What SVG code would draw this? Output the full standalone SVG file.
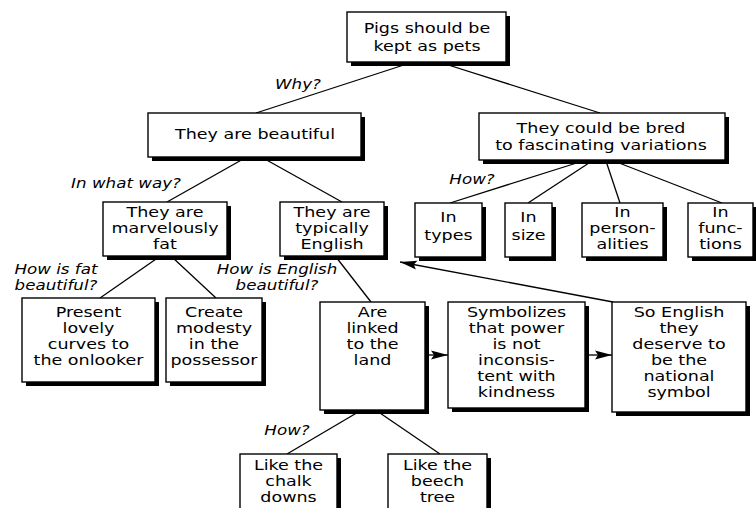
<svg xmlns="http://www.w3.org/2000/svg" width="756" height="508" viewBox="0 0 756 508">
  <style>
    .box { fill: #fff; stroke: #000; stroke-width: 1.4; }
    .shadow { fill: #000; }
    .t { font-family: "DejaVu Sans", "Liberation Sans", sans-serif; font-size: 13.7px; fill: #000; text-anchor: middle; }
    .q { font-family: "DejaVu Sans", "Liberation Sans", sans-serif; font-size: 13.7px; font-style: italic; fill: #000; text-anchor: middle; }
    .link { stroke: #000; stroke-width: 1.3; fill: none; }
  </style>
  <defs>
    <marker id="arrow" markerUnits="userSpaceOnUse" markerWidth="18" markerHeight="12" refX="17" refY="6" orient="auto">
      <path d="M0,1.5 L17,6 L0,10.5 L3,6 z" fill="#000"/>
    </marker>
  </defs>
  <rect width="756" height="508" fill="#fff"/>

  <!-- connectors -->
  <g id="connectors">
    <line class="link" x1="410" y1="63" x2="256" y2="113"/>
    <line class="link" x1="442" y1="63" x2="600" y2="113"/>
    <line class="link" x1="245" y1="158" x2="167" y2="202"/>
    <line class="link" x1="263" y1="158" x2="342" y2="202"/>
    <line class="link" x1="583" y1="161" x2="450" y2="203"/>
    <line class="link" x1="592" y1="161" x2="528" y2="203"/>
    <line class="link" x1="606" y1="161" x2="620" y2="203"/>
    <line class="link" x1="614" y1="161" x2="722" y2="203"/>
    <line class="link" x1="159" y1="257" x2="100" y2="298"/>
    <line class="link" x1="172" y1="257" x2="216" y2="298"/>
    <line class="link" x1="336" y1="257" x2="371" y2="302"/>
    <line class="link" x1="613" y1="302" x2="400" y2="262" marker-end="url(#arrow)"/>
    <line class="link" x1="429" y1="355" x2="448" y2="355" marker-end="url(#arrow)"/>
    <line class="link" x1="589" y1="355" x2="612" y2="355" marker-end="url(#arrow)"/>
    <line class="link" x1="360" y1="411" x2="287" y2="454"/>
    <line class="link" x1="377" y1="411" x2="440" y2="454"/>
  </g>

  <!-- italic question labels -->
  <g id="labels">
    <text class="q" transform="translate(298 0) scale(1.22 1)"><tspan x="0" y="89">Why?</tspan></text>
    <text class="q" transform="translate(126 0) scale(1.22 1)"><tspan x="0" y="188">In what way?</tspan></text>
    <text class="q" transform="translate(472 0) scale(1.22 1)"><tspan x="0" y="184">How?</tspan></text>
    <text class="q" transform="translate(56 0) scale(1.22 1)"><tspan x="0" y="274">How is fat</tspan><tspan x="0" y="290">beautiful?</tspan></text>
    <text class="q" transform="translate(277 0) scale(1.22 1)"><tspan x="0" y="274">How is English</tspan><tspan x="0" y="290">beautiful?</tspan></text>
    <text class="q" transform="translate(287 0) scale(1.22 1)"><tspan x="0" y="435">How?</tspan></text>
  </g>

  <!-- nodes -->
  <g id="n-root">
    <rect class="shadow" x="351" y="16" width="159" height="50"/>
    <rect class="box" x="347" y="12" width="159" height="50"/>
    <text class="t" transform="translate(427 0) scale(1.28 1)"><tspan x="0" y="33">Pigs should be</tspan><tspan x="0" y="51">kept as pets</tspan></text>
  </g>

  <g id="n-beautiful">
    <rect class="shadow" x="152" y="117" width="213" height="44"/>
    <rect class="box" x="148" y="113" width="213" height="44"/>
    <text class="t" transform="translate(255 0) scale(1.28 1)"><tspan x="0" y="139">They are beautiful</tspan></text>
  </g>

  <g id="n-bred">
    <rect class="shadow" x="483" y="117" width="246" height="47"/>
    <rect class="box" x="479" y="113" width="246" height="47"/>
    <text class="t" transform="translate(601 0) scale(1.28 1)"><tspan x="0" y="133">They could be bred</tspan><tspan x="0" y="150">to fascinating variations</tspan></text>
  </g>

  <g id="n-fat">
    <rect class="shadow" x="107" y="206" width="124" height="54"/>
    <rect class="box" x="103" y="202" width="124" height="54"/>
    <text class="t" transform="translate(165 0) scale(1.28 1)"><tspan x="0" y="217">They are</tspan><tspan x="0" y="233">marvelously</tspan><tspan x="0" y="249">fat</tspan></text>
  </g>

  <g id="n-english">
    <rect class="shadow" x="284" y="206" width="104" height="54"/>
    <rect class="box" x="280" y="202" width="104" height="54"/>
    <text class="t" transform="translate(332 0) scale(1.28 1)"><tspan x="0" y="217">They are</tspan><tspan x="0" y="233">typically</tspan><tspan x="0" y="249">English</tspan></text>
  </g>

  <g id="n-types">
    <rect class="shadow" x="419" y="207" width="67" height="54"/>
    <rect class="box" x="415" y="203" width="67" height="54"/>
    <text class="t" transform="translate(448.5 0) scale(1.28 1)"><tspan x="0" y="222">In</tspan><tspan x="0" y="240">types</tspan></text>
  </g>

  <g id="n-size">
    <rect class="shadow" x="509" y="207" width="47" height="54"/>
    <rect class="box" x="505" y="203" width="47" height="54"/>
    <text class="t" transform="translate(528.5 0) scale(1.28 1)"><tspan x="0" y="222">In</tspan><tspan x="0" y="240">size</tspan></text>
  </g>

  <g id="n-personalities">
    <rect class="shadow" x="586" y="207" width="81" height="54"/>
    <rect class="box" x="582" y="203" width="81" height="54"/>
    <text class="t" transform="translate(622.5 0) scale(1.28 1)"><tspan x="0" y="217">In</tspan><tspan x="0" y="233">person-</tspan><tspan x="0" y="249">alities</tspan></text>
  </g>

  <g id="n-functions">
    <rect class="shadow" x="692" y="207" width="65" height="54"/>
    <rect class="box" x="688" y="203" width="65" height="54"/>
    <text class="t" transform="translate(720.5 0) scale(1.28 1)"><tspan x="0" y="217">In</tspan><tspan x="0" y="233">func-</tspan><tspan x="0" y="249">tions</tspan></text>
  </g>

  <g id="n-curves">
    <rect class="shadow" x="26" y="302" width="133" height="84"/>
    <rect class="box" x="22" y="298" width="133" height="84"/>
    <text class="t" transform="translate(88.5 0) scale(1.28 1)"><tspan x="0" y="317">Present</tspan><tspan x="0" y="333">lovely</tspan><tspan x="0" y="349">curves to</tspan><tspan x="0" y="365">the onlooker</tspan></text>
  </g>

  <g id="n-modesty">
    <rect class="shadow" x="170" y="302" width="96" height="84"/>
    <rect class="box" x="166" y="298" width="96" height="84"/>
    <text class="t" transform="translate(214 0) scale(1.28 1)"><tspan x="0" y="317">Create</tspan><tspan x="0" y="333">modesty</tspan><tspan x="0" y="349">in the</tspan><tspan x="0" y="365">possessor</tspan></text>
  </g>

  <g id="n-land">
    <rect class="shadow" x="324" y="306" width="105" height="108"/>
    <rect class="box" x="320" y="302" width="105" height="108"/>
    <text class="t" transform="translate(372.5 0) scale(1.28 1)"><tspan x="0" y="317">Are</tspan><tspan x="0" y="333">linked</tspan><tspan x="0" y="349">to the</tspan><tspan x="0" y="365">land</tspan></text>
  </g>

  <g id="n-symbolizes">
    <rect class="shadow" x="452" y="306" width="137" height="106"/>
    <rect class="box" x="448" y="302" width="137" height="106"/>
    <text class="t" transform="translate(516.5 0) scale(1.28 1)"><tspan x="0" y="317">Symbolizes</tspan><tspan x="0" y="333">that power</tspan><tspan x="0" y="349">is not</tspan><tspan x="0" y="365">inconsis-</tspan><tspan x="0" y="381">tent with</tspan><tspan x="0" y="397">kindness</tspan></text>
  </g>

  <g id="n-national">
    <rect class="shadow" x="616" y="306" width="134" height="110"/>
    <rect class="box" x="612" y="302" width="134" height="110"/>
    <text class="t" transform="translate(679 0) scale(1.28 1)"><tspan x="0" y="317">So English</tspan><tspan x="0" y="333">they</tspan><tspan x="0" y="349">deserve to</tspan><tspan x="0" y="365">be the</tspan><tspan x="0" y="381">national</tspan><tspan x="0" y="397">symbol</tspan></text>
  </g>

  <g id="n-chalk">
    <rect class="shadow" x="244" y="458" width="97" height="60"/>
    <rect class="box" x="240" y="454" width="97" height="60"/>
    <text class="t" transform="translate(288.5 0) scale(1.28 1)"><tspan x="0" y="470">Like the</tspan><tspan x="0" y="486">chalk</tspan><tspan x="0" y="502">downs</tspan></text>
  </g>

  <g id="n-beech">
    <rect class="shadow" x="392" y="458" width="99" height="60"/>
    <rect class="box" x="388" y="454" width="99" height="60"/>
    <text class="t" transform="translate(437.5 0) scale(1.28 1)"><tspan x="0" y="470">Like the</tspan><tspan x="0" y="486">beech</tspan><tspan x="0" y="502">tree</tspan></text>
  </g>
</svg>
